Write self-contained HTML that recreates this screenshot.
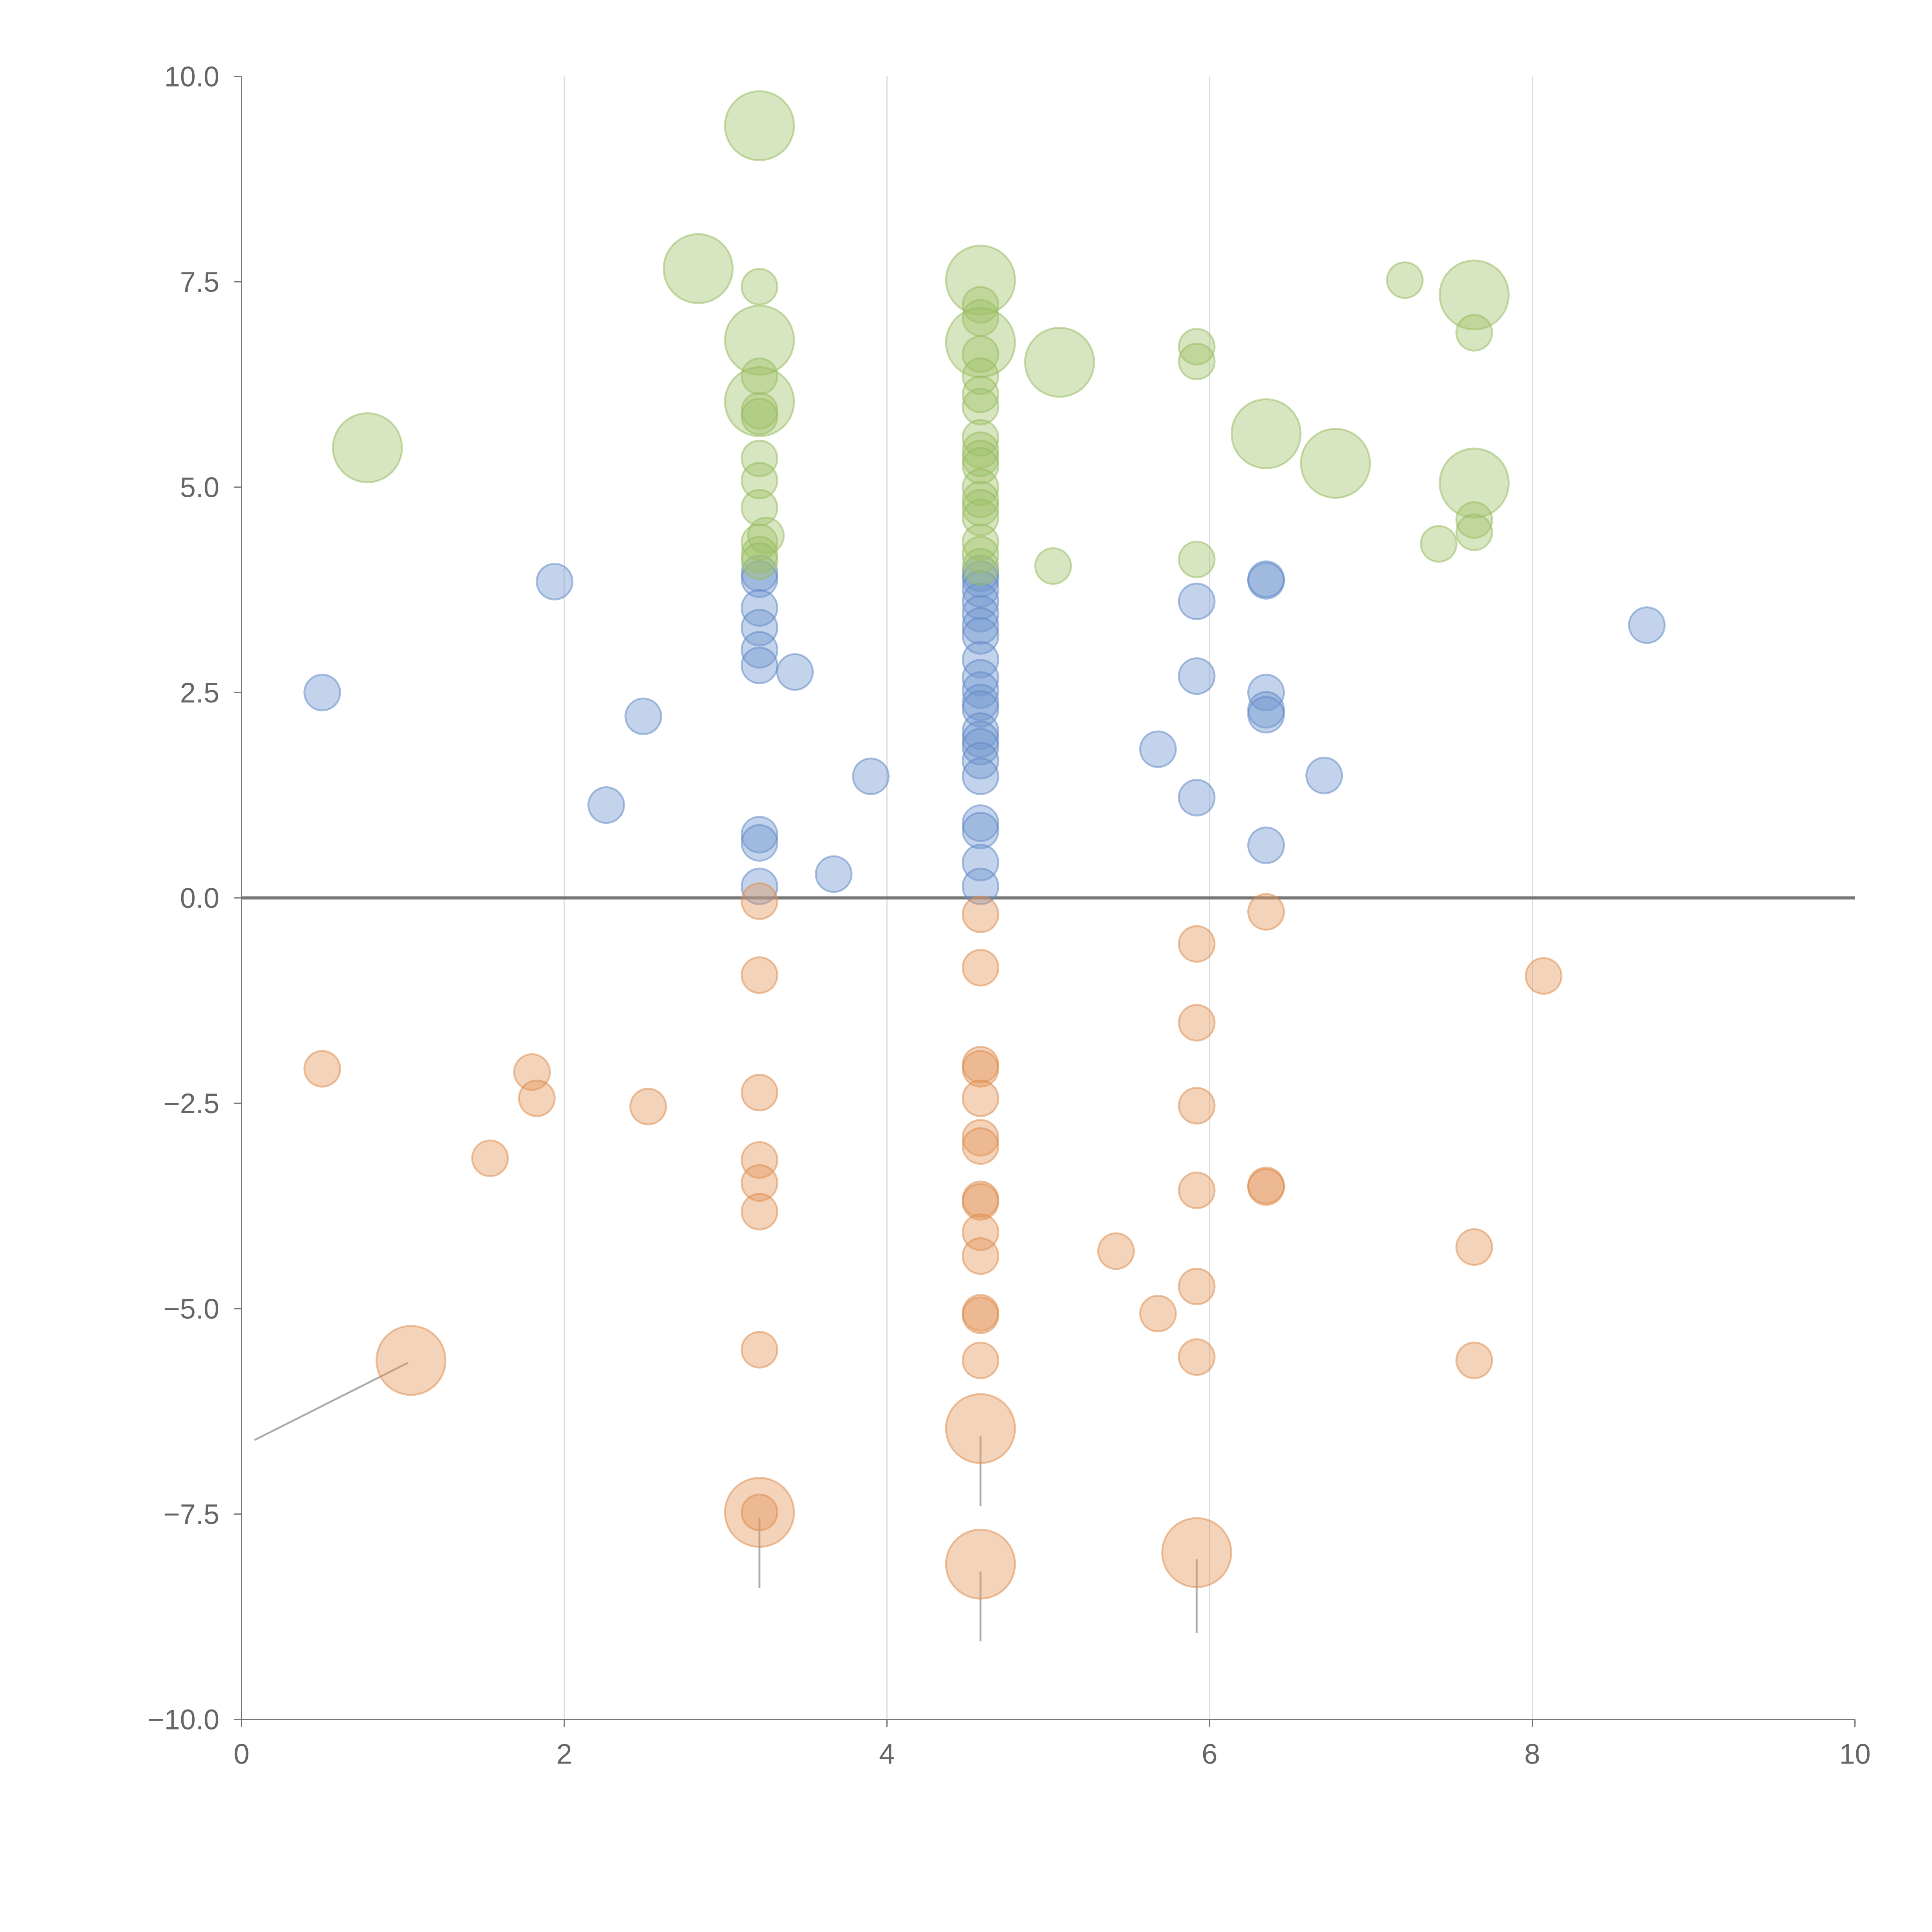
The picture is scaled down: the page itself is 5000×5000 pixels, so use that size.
<!DOCTYPE html>
<html><head><meta charset="utf-8"><style>
html,body{margin:0;padding:0;background:#fff;}
svg{display:block;}
text{font-family:"Liberation Sans",sans-serif;fill:#666;font-size:23px;}
</style></head><body>
<svg id="chart" width="5000" height="5000" viewBox="0 0 1567.5 1567.5" xmlns="http://www.w3.org/2000/svg">
<g id="grid"></g>
<g id="axes"></g>
<g id="leaders"></g>
<g id="marks"></g>
</svg>
<script>
const xTicks=[0,2,4,6,8,10];
const yTicks=[-10,-7.5,-5,-2.5,0,2.5,5,7.5,10];
const greenX=[3.21,2.83,3.21,4.58,4.58,4.58,3.21,4.58,4.58,5.07,5.92,5.92,7.21,7.64,7.64,3.21,3.21,3.21,3.21,4.58,4.58,4.58,0.78,6.35,6.78,7.64,3.21,3.21,3.21,3.21,3.25,3.21,3.21,4.58,4.58,4.58,4.58,4.58,4.58,4.58,4.58,4.58,4.58,4.58,5.03,5.92,7.42,7.64,7.64];
const greenY=[9.40,7.66,7.44,7.52,7.22,7.06,6.79,6.76,6.62,6.52,6.71,6.53,7.52,7.34,6.88,6.35,6.04,5.93,5.86,6.35,6.13,5.98,5.48,5.65,5.29,5.05,5.35,5.08,4.75,4.33,4.41,4.18,4.10,5.60,5.45,5.35,5.26,5.00,4.85,4.75,4.63,4.33,4.18,4.03,4.04,4.12,4.31,4.60,4.45];
const greenS=[2,2,1,2,1,1,2,2,1,2,1,1,1,2,1,1,2,1,1,1,1,1,2,2,2,2,1,1,1,1,1,1,1,1,1,1,1,1,1,1,1,1,1,1,1,1,1,1,1];
const blueX=[0.50,1.94,2.49,2.26,3.21,3.21,3.21,3.21,3.21,3.21,3.43,3.90,3.67,3.21,3.21,3.21,4.58,4.58,4.58,4.58,4.58,4.58,4.58,4.58,4.58,4.58,4.58,4.58,4.58,4.58,4.58,4.58,4.58,4.58,4.58,4.58,4.58,5.68,5.92,5.92,5.92,6.35,6.35,6.35,6.35,6.35,6.35,6.71,8.71];
const blueY=[2.50,3.85,2.21,1.13,3.95,3.88,3.53,3.29,3.02,2.83,2.75,1.48,0.29,0.77,0.67,0.14,3.95,3.88,3.76,3.61,3.46,3.31,3.19,2.90,2.68,2.53,2.38,2.30,2.03,1.93,1.84,1.67,1.48,0.91,0.82,0.43,0.14,1.81,3.61,2.70,1.22,3.86,3.88,2.50,2.29,2.23,0.64,1.49,3.32];
const orangeX=[0.50,1.80,1.83,2.52,1.54,1.05,3.21,3.21,3.21,3.21,3.21,3.21,3.21,3.21,3.21,4.58,4.58,4.58,4.58,4.58,4.58,4.58,4.58,4.58,4.58,4.58,4.58,4.58,4.58,4.58,4.58,5.42,5.68,5.92,5.92,5.92,5.92,5.92,5.92,5.92,6.35,6.35,6.35,7.64,7.64,8.07];
const orangeY=[-2.08,-2.12,-2.44,-2.54,-3.17,-5.63,-0.04,-0.94,-2.37,-3.19,-3.47,-3.82,-5.50,-7.48,-7.48,-0.20,-0.85,-2.03,-2.08,-2.44,-2.92,-3.02,-3.67,-3.70,-4.07,-4.36,-5.05,-5.08,-5.63,-6.46,-8.11,-4.30,-5.06,-0.56,-1.52,-2.53,-3.56,-4.73,-5.59,-7.97,-0.17,-3.50,-3.52,-4.25,-5.63,-0.95];
const orangeS=[1,1,1,1,1,2,1,1,1,1,1,1,1,2,1,1,1,1,1,1,1,1,1,1,1,1,1,1,1,2,2,1,1,1,1,1,1,1,1,2,1,1,1,1,1,1];
const leadFromX=[0.08,3.21,4.58,4.58,5.92];
const leadFromY=[-6.6,-8.4,-7.4,-9.05,-8.95];
const leadToX=[1.03,3.21,4.58,4.58,5.92];
const leadToY=[-5.66,-7.55,-6.55,-8.2,-8.05];

const X0=196,X1=1505,Y0=1395,Y1=62;
const sx=v=>X0+(v-0)/(10-0)*(X1-X0);
const sy=v=>Y0-(v+10)/20*(Y0-Y1);
const rad=s=>s===2?28:14.5;
const NS="http://www.w3.org/2000/svg";
function mk(tag,attrs,parent){const e=document.createElementNS(NS,tag);for(const k in attrs)e.setAttribute(k,attrs[k]);parent.appendChild(e);return e;}
const grid=document.getElementById('grid'),axes=document.getElementById('axes'),marks=document.getElementById('marks'),leaders=document.getElementById('leaders');
xTicks.forEach(t=>{
  if(t>0&&t<10){const g=mk('line',{x1:sx(t),x2:sx(t),y1:Y1,y2:Y0,stroke:'#dcdcdc','stroke-width':1},grid);
  
  }
  const tk=mk('line',{x1:sx(t),x2:sx(t),y1:Y0,y2:Y0+6,stroke:'#777','stroke-width':1},axes);
  
  
  const tx=mk('text',{x:sx(t),y:Y0+36,'text-anchor':'middle'},axes);tx.textContent=t;
  
  
});
yTicks.forEach(t=>{
  const tk=mk('line',{x1:X0-6,x2:X0,y1:sy(t),y2:sy(t),stroke:'#777','stroke-width':1},axes);
  
  
  const tx=mk('text',{x:X0-18,y:sy(t)+8,'text-anchor':'end'},axes);tx.textContent=(t<0?'\u2212':'')+Math.abs(t).toFixed(1);
  
  
});
const ya=mk('line',{x1:X0,x2:X0,y1:Y1,y2:Y0,stroke:'#777','stroke-width':1},axes);


const xa=mk('line',{x1:X0,x2:X1,y1:Y0,y2:Y0,stroke:'#777','stroke-width':1},axes);


const zl=mk('line',{x1:X0,x2:X1,y1:sy(0),y2:sy(0),stroke:'#777','stroke-width':2.5},axes);


function series(xs,ys,ss,fill,stroke,name){
  xs.forEach((x,i)=>{
    const c=mk('circle',{cx:sx(x),cy:sy(ys[i]),r:rad(ss?ss[i]:1),fill:fill,'fill-opacity':0.42,stroke:stroke,'stroke-opacity':0.5,'stroke-width':1.5},marks);
    
    
  });
}
series(blueX,blueY,null,'#7197cf','#5b86c4','bubble-blue');
series(greenX,greenY,greenS,'#9fc26a','#93b95c','bubble-green');
series(orangeX,orangeY,orangeS,'#e3955a','#de8a48','bubble-orange');
leadFromX.forEach((x,i)=>{
  const l=mk('line',{x1:sx(x),y1:sy(leadFromY[i]),x2:sx(leadToX[i]),y2:sy(leadToY[i]),stroke:'#aaa','stroke-width':1.5},leaders);
  
  
});
</script>
</body></html>
